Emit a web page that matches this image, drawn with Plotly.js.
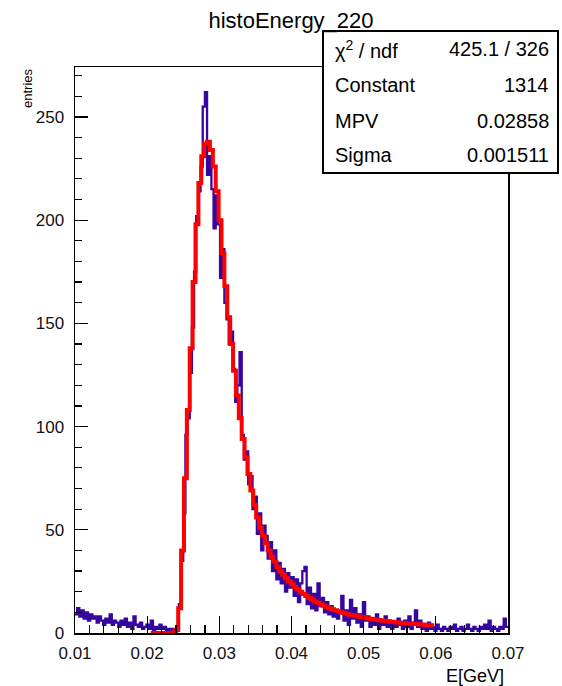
<!DOCTYPE html>
<html>
<head>
<meta charset="utf-8">
<script src="https://cdn.plot.ly/plotly-3.0.1.min.js"></script>
<style>html,body{margin:0;padding:0;background:#fff;}#chart{width:562px;height:686px;}</style>
</head>
<body>
<div id="chart"></div>
<script>
// ---- histogram: histoEnergy_220 (bins from 0.01 to 0.07, width 0.0003) ----
const histLow = 0.01;
const histWidth = 0.0003;
const histCounts = [
  9, 12, 8, 11, 7, 10, 6, 9, 7, 8,
  5, 8, 6, 4, 7, 5, 9, 4, 6, 5,
  3, 6, 4, 7, 3, 5, 2, 8, 4, 3,
  5, 2, 3, 4, 2, 6, 1, 3, 2, 4,
  2, 3, 1, 2, 1, 2, 0, 1, 14, 35,
  58, 96, 104, 126, 148, 175, 202, 214, 226, 255,
  262, 222, 231, 215, 196, 212, 198, 172, 186, 160,
  152, 140, 146, 128, 112, 120, 136, 96, 84, 88,
  72, 76, 60, 66, 48, 58, 40, 52, 47, 36,
  44, 30, 40, 26, 34, 24, 31, 20, 29, 22,
  27, 18, 26, 15, 24, 30, 32, 14, 22, 12,
  19, 11, 24, 13, 17, 10, 15, 9, 13, 8,
  11, 7, 10, 18, 6, 11, 4, 16, 7, 12,
  5, 9, 3, 15, 6, 8, 3, 7, 4, 9,
  2, 6, 4, 8, 3, 6, 2, 5, 3, 7,
  4, 2, 6, 3, 8, 2, 5, 11, 3, 6,
  2, 4, 1, 5, 2, 3, 1, 4, 2, 1,
  3, 2, 1, 3, 2, 4, 1, 2, 3, 1,
  2, 4, 2, 1, 3, 2, 1, 3, 2, 4,
  2, 6, 1, 3, 2, 1, 3, 2, 7, 3
];

const fitStart = 0.0205;
const fitStep = 0.0004;
const fitValues = [
  0, 0, 0, 0, 0, 0, 0, 0, 0.2, 1.5,
  12, 40, 75, 108, 138, 170, 198, 218, 231, 237,
  238, 234, 226, 214, 200, 184, 168, 153, 140, 127,
  115, 104, 94, 85, 77, 69, 62, 56, 51, 47,
  43.5, 40, 37, 34.5, 32, 30, 28.2, 26.5, 25, 23.6,
  22.3, 21.1, 20, 18.9, 17.9, 17, 16.1, 15.3, 14.6, 13.9,
  13.2, 12.6, 12, 11.5, 11, 10.5, 10.1, 9.7, 9.3, 8.9,
  8.6, 8.3, 8, 7.7, 7.4, 7.1, 6.9, 6.7, 6.5, 6.3,
  6.1, 5.9, 5.7, 5.5, 5.4, 5.2, 5.1, 4.9, 4.8, 4.6,
  4.5, 4.4, 4.3, 4.2, 4.1, 4, 3.9, 3.8, 3.7
];

// ---- texts ----
const chartTitle = 'histoEnergy_220';
const xTitle = 'E[GeV]';
const yTitle = 'entries';
const statLabels = ['\u03C7<sup>2</sup> / ndf', 'Constant', 'MPV', 'Sigma'];
const statValues = ['425.1 / 326', '1314', '0.02858', '0.001511'];

// ---- build traces ----
const histX = [], histY = [];
for (let i = 0; i < histCounts.length; i++) {
  histX.push(histLow + i * histWidth);
  histY.push(histCounts[i]);
}
histX.push(histLow + histCounts.length * histWidth);
histY.push(histCounts[histCounts.length - 1]);

const fitX = fitValues.map((v, i) => fitStart + i * fitStep);

const FONT = 'Liberation Sans, Arial, Helvetica, sans-serif';

const traces = [
  {
    x: histX, y: histY, type: 'scatter', mode: 'lines',
    line: {shape: 'hv', color: '#3606a0', width: 2.3},
    hoverinfo: 'skip'
  },
  {
    x: fitX, y: fitValues, type: 'scatter', mode: 'lines',
    line: {shape: 'hvh', color: '#ff0000', width: 4},
    hoverinfo: 'skip'
  }
];

// pixel -> paper helpers (plot area: x 75..508, y 67..633)
const L = 75, R = 508, T = 67, B = 633;
const px = v => (v - L) / (R - L);
const py = v => (B - v) / (B - T);

const annotations = [];
const rowY = [49, 85, 121, 155];
statLabels.forEach((t, i) => {
  annotations.push({xref: 'paper', yref: 'paper', x: px(333), y: py(rowY[i]), xanchor: 'left', yanchor: 'middle',
    text: t, showarrow: false, font: {family: FONT, size: 20, color: '#000'}});
  annotations.push({xref: 'paper', yref: 'paper', x: px(551), y: py(rowY[i]), xanchor: 'right', yanchor: 'middle',
    text: statValues[i], showarrow: false, font: {family: FONT, size: 20, color: '#000'}});
});
annotations.push({xref: 'paper', yref: 'paper', x: px(506), y: py(676), xanchor: 'right', yanchor: 'middle',
  text: xTitle, showarrow: false, font: {family: FONT, size: 18, color: '#000'}});
annotations.push({xref: 'paper', yref: 'paper', x: px(27), y: py(66), xanchor: 'center', yanchor: 'top',
  text: yTitle, textangle: -90, showarrow: false, font: {family: FONT, size: 13, color: '#000'}});

const shapes = [
  {type: 'rect', xref: 'paper', yref: 'paper', layer: 'above',
   x0: px(323), x1: px(558), y0: py(173), y1: py(31),
   fillcolor: '#ffffff', line: {color: '#000', width: 2}}
];

const layout = {
  width: 562, height: 686,
  margin: {l: L, r: 562 - R, t: T, b: 686 - B, pad: 0},
  paper_bgcolor: '#ffffff', plot_bgcolor: '#ffffff',
  showlegend: false,
  title: {text: chartTitle, x: 291 / 562, xanchor: 'center', xref: 'container',
          y: 1 - 20 / 686, yanchor: 'middle', yref: 'container',
          font: {family: FONT, size: 22, color: '#000'}},
  xaxis: {
    range: [0.01, 0.07], showgrid: false, zeroline: false,
    showline: true, mirror: true, linecolor: '#000', linewidth: 1.5,
    tickmode: 'linear', tick0: 0.01, dtick: 0.01, tickformat: '.2f',
    ticks: 'inside', ticklen: 17, tickwidth: 1.2, tickcolor: '#000',
    minor: {ticks: 'inside', tick0: 0.01, dtick: 0.002, ticklen: 8, tickwidth: 1.2, tickcolor: '#000', showgrid: false},
    tickfont: {family: FONT, size: 17, color: '#111'},
    ticklabelstandoff: 4
  },
  yaxis: {
    range: [0, 274.2], showgrid: false, zeroline: false,
    showline: true, mirror: true, linecolor: '#000', linewidth: 1.5,
    tickmode: 'linear', tick0: 0, dtick: 50,
    ticks: 'inside', ticklen: 13, tickwidth: 1.2, tickcolor: '#000',
    minor: {ticks: 'inside', tick0: 0, dtick: 10, ticklen: 7, tickwidth: 1.2, tickcolor: '#000', showgrid: false},
    tickfont: {family: FONT, size: 17, color: '#111'},
    ticklabelstandoff: 6
  },
  shapes: shapes,
  annotations: annotations
};

Plotly.newPlot('chart', traces, layout, {staticPlot: true, displayModeBar: false});
</script>
</body>
</html>
